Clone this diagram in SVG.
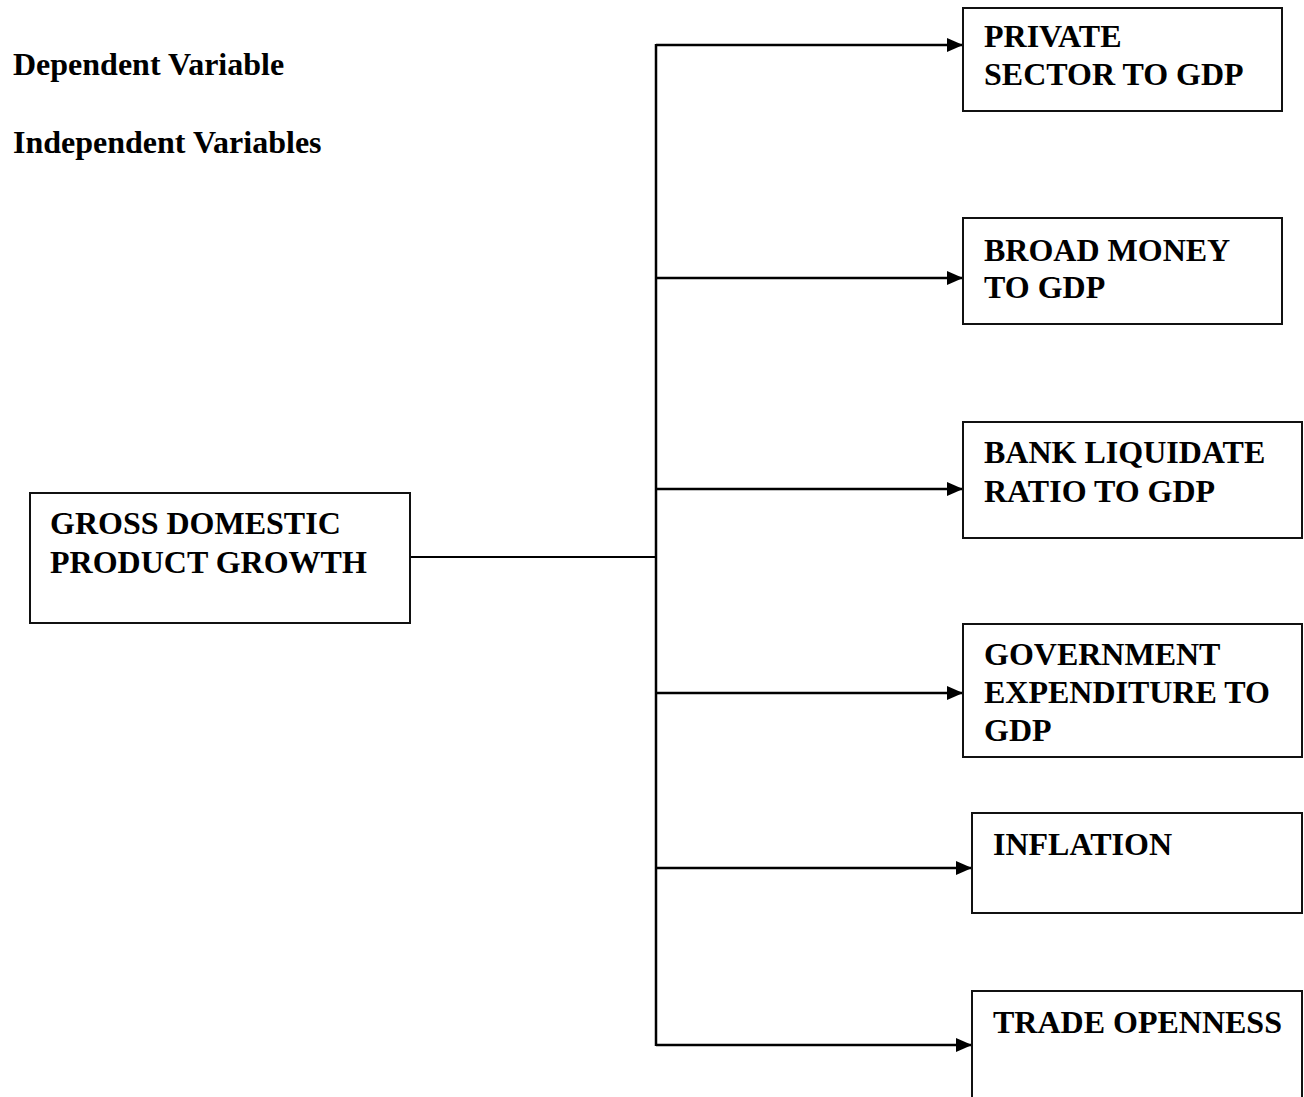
<svg xmlns="http://www.w3.org/2000/svg" width="1304" height="1097" viewBox="0 0 1304 1097">
<defs>
<marker id="arr" markerWidth="16" markerHeight="14" refX="16" refY="7" orient="auto" markerUnits="userSpaceOnUse">
<path d="M0,0 L16,7 L0,14 Z" fill="#000"/>
</marker>
<style>
.t{font-family:"Liberation Serif","Times New Roman",serif;font-weight:bold;font-size:32px;fill:#000}
.box{fill:#fff;stroke:#111;stroke-width:2}
.ln{stroke:#000;stroke-width:2.5;fill:none}
</style>
</defs>
<rect width="1304" height="1097" fill="#fff"/>
<text class="t" x="13" y="75">Dependent Variable</text>
<text class="t" x="13" y="153">Independent Variables</text>
<g id="connectors">
<line class="ln" x1="410" y1="557" x2="657" y2="557" style="stroke-width:2"/>
<line class="ln" x1="656" y1="44" x2="656" y2="1046"/>
<line class="ln" x1="656" y1="45" x2="963" y2="45" marker-end="url(#arr)"/>
<line class="ln" x1="656" y1="278" x2="963" y2="278" marker-end="url(#arr)"/>
<line class="ln" x1="656" y1="489" x2="963" y2="489" marker-end="url(#arr)"/>
<line class="ln" x1="656" y1="693" x2="963" y2="693" marker-end="url(#arr)"/>
<line class="ln" x1="656" y1="868" x2="972" y2="868" marker-end="url(#arr)"/>
<line class="ln" x1="656" y1="1045" x2="972" y2="1045" marker-end="url(#arr)"/>
</g>
<g id="gdp">
<rect class="box" x="30" y="493" width="380" height="130"/>
<text class="t" x="50" y="534">GROSS DOMESTIC</text>
<text class="t" x="50" y="573">PRODUCT GROWTH</text>
</g>
<g id="private">
<rect class="box" x="963" y="8" width="319" height="103"/>
<text class="t" x="984" y="47">PRIVATE</text>
<text class="t" x="984" y="85">SECTOR TO GDP</text>
</g>
<g id="broad">
<rect class="box" x="963" y="218" width="319" height="106"/>
<text class="t" x="984" y="261">BROAD MONEY</text>
<text class="t" x="984" y="298">TO GDP</text>
</g>
<g id="bank">
<rect class="box" x="963" y="422" width="339" height="116"/>
<text class="t" x="984" y="463">BANK LIQUIDATE</text>
<text class="t" x="984" y="502">RATIO TO GDP</text>
</g>
<g id="gov">
<rect class="box" x="963" y="624" width="339" height="133"/>
<text class="t" x="984" y="665">GOVERNMENT</text>
<text class="t" x="984" y="703">EXPENDITURE TO</text>
<text class="t" x="984" y="741">GDP</text>
</g>
<g id="inflation">
<rect class="box" x="972" y="813" width="330" height="100"/>
<text class="t" x="993" y="855">INFLATION</text>
</g>
<g id="trade">
<rect class="box" x="972" y="991" width="330" height="120"/>
<text class="t" x="993" y="1033">TRADE OPENNESS</text>
</g>
</svg>
